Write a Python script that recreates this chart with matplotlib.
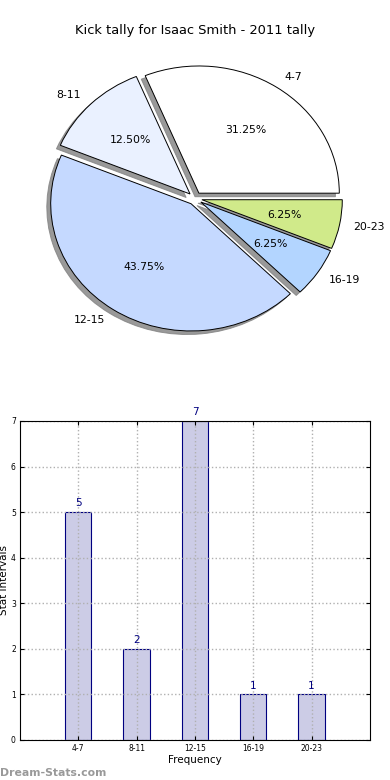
import matplotlib
matplotlib.use('Agg')
import matplotlib.pyplot as plt
import numpy as np

labels = ['4-7', '8-11', '12-15', '16-19', '20-23']
counts = [5, 2, 7, 1, 1]
pie_colors = ['#ffffff', '#eaf1ff', '#c5d9ff', '#b3d5ff', '#d0ea8a']

fig = plt.figure(figsize=(3.9, 7.8), dpi=100)

# pie on top (old style, not forced round)
ax1 = fig.add_axes([0.05, 0.5417, 0.9, 0.4077])
wedges, texts, autotexts = ax1.pie(counts, labels=labels, colors=pie_colors,
                                   explode=[0.05]*5, autopct='%.2f%%',
                                   shadow={'ox': -0.02, 'oy': -0.02,
                                           'facecolor': '0.5', 'edgecolor': '0.5',
                                           'alpha': 0.8},
                                   wedgeprops={'edgecolor': 'black', 'linewidth': 0.7},
                                   textprops={'fontsize': 7.8})
ax1.set_aspect('auto')
ax1.set_xlim(-1.25, 1.25)
ax1.set_ylim(-1.25, 1.25)
ax1.set_title('Kick tally for Isaac Smith - 2011 tally', fontsize=9.4, pad=4)

# bar chart below
ax2 = fig.add_axes([0.0513, 0.0513, 0.897, 0.409])
x = np.arange(len(labels))
ax2.bar(x, counts, width=0.45, color='#cccce6', edgecolor='navy', linewidth=0.8)
for xi, c in zip(x, counts):
    ax2.text(xi, c + 0.08, str(c), ha='center', va='bottom', color='navy', fontsize=7.5)
ax2.set_xlim(-1, 5)
ax2.set_ylim(0, 7)
ax2.set_xticks(x)
ax2.set_xticklabels(labels)
ax2.set_yticks(range(8))
ax2.tick_params(labelsize=5.5, direction='in', top=True, right=True, length=3, pad=3)
ax2.grid(True, linestyle=':', color='#b0b0b0', linewidth=1)
ax2.set_axisbelow(False)
for sp in ax2.spines.values():
    sp.set_zorder(5)
ax2.set_xlabel('Frequency', fontsize=7.5, labelpad=1)
ax2.set_ylabel('Stat Intervals', fontsize=7.5)
ax2.yaxis.set_label_coords(-0.031, 0.5)

fig.text(0.0, 0.005, 'Dream-Stats.com', color='#999999', fontsize=7.8, fontweight='bold')

fig.savefig('out.png', dpi=100)
